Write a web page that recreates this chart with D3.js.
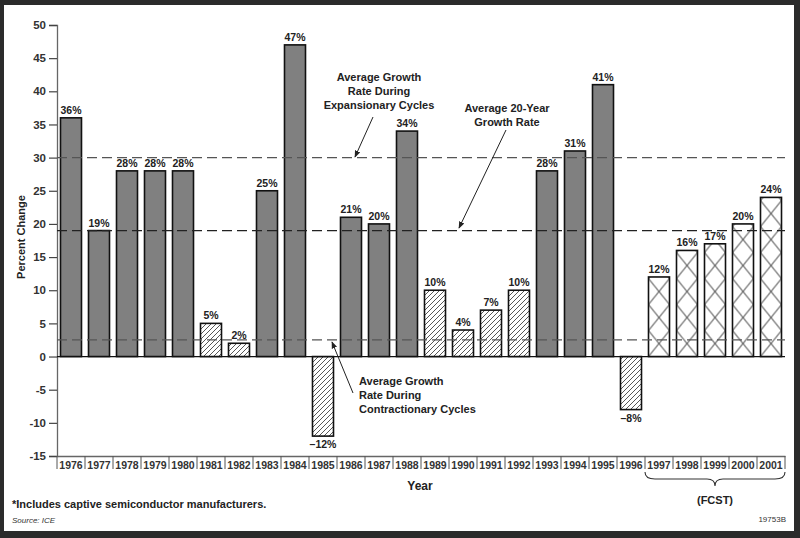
<!DOCTYPE html>
<html><head><meta charset="utf-8">
<script src="https://cdn.jsdelivr.net/npm/d3@7"></script>
<style>
html,body{margin:0;padding:0;background:#262626;}
svg{display:block;font-family:"Liberation Sans",Arial,sans-serif;}
</style></head>
<body>
<script>
const years = ["1976","1977","1978","1979","1980","1981","1982","1983","1984","1985","1986","1987","1988","1989","1990","1991","1992","1993","1994","1995","1996","1997","1998","1999","2000","2001"];
const values = [36,19,28,28,28,5,2,25,47,-12,21,20,34,10,4,7,10,28,31,41,-8,12,16,17,20,24];
const barTypes = ["s","s","s","s","s","h","h","s","s","h","s","s","s","h","h","h","h","s","s","s","h","x","x","x","x","x"];
const yTicks = [50,45,40,35,30,25,20,15,10,5,0,-5,-10,-15];
const refLines = [30,19,2.5];
const forecastYears = ["1997","1998","1999","2000","2001"];

const W=800,H=538;
const svg=d3.select("body").append("svg").attr("width",W).attr("height",H);
// frame
svg.append("rect").attr("x",0).attr("y",0).attr("width",W).attr("height",H).attr("fill","#2b2b2b");
svg.append("rect").attr("x",4).attr("y",5).attr("width",790).attr("height",526).attr("fill","#fff");

const x=d3.scaleBand().domain(years).range([57,785]).paddingInner(0.25).paddingOuter(0.125);
const y=d3.scaleLinear().domain([-15,50]).range([456,25]);
const step=x.step(), bw=x.bandwidth();

const defs=svg.append("defs");
const hp=defs.append("pattern").attr("id","hatch").attr("patternUnits","userSpaceOnUse").attr("width",5).attr("height",5);
hp.append("rect").attr("width",5).attr("height",5).attr("fill","#fff");
hp.append("path").attr("d","M-1,1 L1,-1 M0,5 L5,0 M4,6 L6,4").attr("stroke","#444").attr("stroke-width",0.9);
const cx0=x(forecastYears[0]);
const cp=defs.append("pattern").attr("id","cross").attr("patternUnits","userSpaceOnUse")
  .attr("x",cx0).attr("y",y(0)).attr("width",step).attr("height",26);
cp.append("rect").attr("width",step).attr("height",26).attr("fill","#fff");
cp.append("path").attr("d",`M0,0 L${bw},26 M${bw},0 L0,26`).attr("stroke","#222").attr("stroke-width",1);

// y axis
const yAxis=d3.axisLeft(y).tickValues(yTicks).tickSize(8).tickPadding(3).tickFormat(d=>String(d));
const ga=svg.append("g").attr("transform","translate(57,0)").call(yAxis);
ga.select(".domain").attr("stroke","#666").attr("stroke-width",1.3);
ga.selectAll(".tick line").attr("stroke","#444").attr("stroke-width",1.2);
ga.selectAll(".tick text").attr("font-size",11.5).attr("font-weight","bold").attr("fill","#333").attr("font-family","Liberation Sans, Arial, sans-serif");

// x axis
const xAxis=d3.axisBottom(x).tickSize(0).tickPadding(6);
const gx=svg.append("g").attr("transform","translate(0,456)").call(xAxis);
gx.select(".domain").attr("stroke","#666").attr("stroke-width",1.3);
gx.selectAll(".tick text").attr("font-size",10.5).attr("font-weight","bold").attr("fill","#333").attr("font-family","Liberation Sans, Arial, sans-serif");
const seps=years.map(d=>x(d)-step*x.paddingOuter()).concat([x(years[years.length-1])+bw+step*x.paddingOuter()]);
svg.append("g").selectAll("line").data(seps).join("line")
  .attr("x1",d=>d).attr("x2",d=>d).attr("y1",456).attr("y2",469).attr("stroke","#555").attr("stroke-width",1);

// bars
svg.append("g").selectAll("rect").data(years).join("rect")
  .attr("x",d=>x(d)).attr("width",bw)
  .attr("y",(d,i)=>y(Math.max(0,values[i])))
  .attr("height",(d,i)=>Math.abs(y(values[i])-y(0)))
  .attr("fill",(d,i)=>barTypes[i]==="s"?"#808080":barTypes[i]==="h"?"url(#hatch)":"url(#cross)")
  .attr("stroke","#111").attr("stroke-width",1.6);

// zero line
svg.append("line").attr("x1",57).attr("x2",785).attr("y1",y(0)).attr("y2",y(0)).attr("stroke","#111").attr("stroke-width",1.3);

// reference lines
svg.append("g").selectAll("line").data(refLines).join("line")
  .attr("x1",57).attr("x2",785).attr("y1",d=>y(d)).attr("y2",d=>y(d))
  .attr("stroke",(d,i)=>i===1?"#222":"#555").attr("stroke-width",1.3).attr("stroke-dasharray","10,5");

// value labels
svg.append("g").selectAll("text").data(years).join("text")
  .attr("x",d=>x(d)+bw/2)
  .attr("y",(d,i)=>values[i]>=0?y(values[i])-4:y(values[i])+12)
  .attr("text-anchor","middle").attr("font-size",10.5).attr("font-weight","bold").attr("fill","#222")
  .text((d,i)=>values[i]<0?"\u2013"+Math.abs(values[i])+"%":values[i]+"%");

// annotations
function ann(lines,xx,yy,anchor){
  const t=svg.append("text").attr("font-size",11).attr("font-weight","bold").attr("fill","#222").attr("text-anchor",anchor);
  lines.forEach((l,i)=>t.append("tspan").attr("x",xx).attr("y",yy+i*14).text(l));
}
ann(["Average Growth","Rate During","Expansionary Cycles"],379,81,"middle");
ann(["Average 20-Year","Growth Rate"],507,112,"middle");
ann(["Average Growth","Rate During","Contractionary Cycles"],359,385,"start");

defs.append("marker").attr("id","arr").attr("viewBox","0 0 10 10").attr("refX",9).attr("refY",5)
  .attr("markerWidth",7).attr("markerHeight",7).attr("orient","auto")
  .append("path").attr("d","M0,1 L10,5 L0,9 Z").attr("fill","#222");
const arrows=[[373,117,355,157],[506,130,459,228],[353,393,332,342]];
svg.append("g").selectAll("line").data(arrows).join("line")
  .attr("x1",d=>d[0]).attr("y1",d=>d[1]).attr("x2",d=>d[2]).attr("y2",d=>d[3])
  .attr("stroke","#222").attr("stroke-width",1).attr("marker-end","url(#arr)");

// y label
svg.append("text").attr("transform","translate(25,237) rotate(-90)").attr("text-anchor","middle")
  .attr("font-size",11).attr("font-weight","bold").attr("fill","#222").text("Percent Change");
// x label
svg.append("text").attr("x",420).attr("y",490).attr("text-anchor","middle")
  .attr("font-size",12).attr("font-weight","bold").attr("fill","#222").text("Year");

// brace for FCST
const bx0=x(forecastYears[0])-step*x.paddingOuter(), bx1=x(forecastYears[4])+bw+step*x.paddingOuter();
const bm=(bx0+bx1)/2, by=472;
svg.append("path").attr("d",`M${bx0},${by} Q${bx0},${by+7} ${bx0+10},${by+7} L${bm-8},${by+7} Q${bm},${by+7} ${bm},${by+14} Q${bm},${by+7} ${bm+8},${by+7} L${bx1-10},${by+7} Q${bx1},${by+7} ${bx1},${by}`)
  .attr("fill","none").attr("stroke","#333").attr("stroke-width",1.1);
svg.append("text").attr("x",bm).attr("y",504).attr("text-anchor","middle")
  .attr("font-size",11).attr("font-weight","bold").attr("fill","#222").text("(FCST)");

// footnotes
svg.append("text").attr("x",12).attr("y",508).attr("font-size",11).attr("font-weight","bold").attr("fill","#222")
  .text("*Includes captive semiconductor manufacturers.");
svg.append("text").attr("x",12).attr("y",523).attr("font-size",8).attr("font-style","italic").attr("fill","#333")
  .text("Source: ICE");
svg.append("text").attr("x",786).attr("y",522).attr("text-anchor","end").attr("font-size",8).attr("fill","#333")
  .text("19753B");
</script>
</body></html>
